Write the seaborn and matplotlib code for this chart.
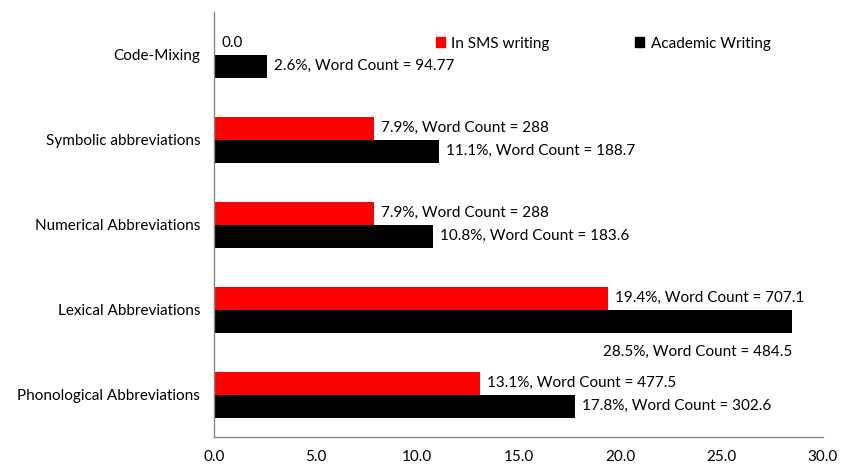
import matplotlib
matplotlib.use("Agg")
import matplotlib.pyplot as plt
from matplotlib.patches import Patch
import numpy as np
import pandas as pd
import seaborn as sns

# ── Data ──────────────────────────────────────────────────────────────────────
categories = ["Code-Mixing", "Symbolic abbreviations", "Numerical Abbreviations",
              "Lexical Abbreviations", "Phonological Abbreviations"]
series = ["In SMS writing", "Academic Writing"]
sms_pct = [0.0, 7.9, 7.9, 19.4, 13.1]
sms_words = [None, "288", "288", "707.1", "477.5"]
acad_pct = [2.6, 11.1, 10.8, 28.5, 17.8]
acad_words = ["94.77", "188.7", "183.6", "484.5", "302.6"]
x_ticks = [0, 5, 10, 15, 20, 25, 30]

df = pd.DataFrame({
    "category": categories * 2,
    "series": [series[0]] * 5 + [series[1]] * 5,
    "pct": sms_pct + acad_pct,
})

sns.set_style("white")
plt.rcParams["font.family"] = ["Lato", "DejaVu Sans"]
plt.rcParams["font.size"] = 11
plt.rcParams["text.color"] = "black"
plt.rcParams["xtick.color"] = "black"
plt.rcParams["ytick.color"] = "black"

fs = 11

fig = plt.figure(figsize=(8.41, 4.68), dpi=100)
ax = fig.add_axes([0.2545, 0.066, 0.724, 0.908])

sns.barplot(data=df, x="pct", y="category", hue="series", orient="h",
            order=categories, hue_order=series,
            palette=["#FF0000", "#000000"], width=0.54, saturation=1,
            linewidth=0, ax=ax, legend=False)

ax.set_xlim(0, 30)
ax.set_ylim(len(categories) - 0.5, -0.5)
ax.set_xticks(x_ticks)
ax.set_xticklabels([f"{t:.1f}" for t in x_ticks], fontsize=fs)
ax.set_xlabel("")
ax.set_ylabel("")

# category labels centred on bands, tick marks on the band edges
ax.set_yticks(range(len(categories)))
ax.set_yticklabels(categories, fontsize=fs)
ax.tick_params(axis="y", length=0, pad=10)
ax.set_yticks(np.arange(-0.5, len(categories)), minor=True)
ax.tick_params(axis="y", which="minor", length=5, color="#868686", direction="out")
ax.tick_params(axis="x", length=5, color="#868686", direction="out", pad=4)

for side in ["top", "right"]:
    ax.spines[side].set_visible(False)
for side in ["left", "bottom"]:
    ax.spines[side].set_color("#868686")
    ax.spines[side].set_linewidth(1)

# ── Bar labels ────────────────────────────────────────────────────────────────
off = 0.135
gap = 0.35
for i in range(len(categories)):
    if sms_words[i] is None:
        txt = f"{sms_pct[i]:.1f}"
    else:
        txt = f"{sms_pct[i]}%, Word Count = {sms_words[i]}"
    ax.text(sms_pct[i] + gap, i - off, txt, va="center", ha="left", fontsize=fs)

    txt = f"{acad_pct[i]}%, Word Count = {acad_words[i]}"
    if acad_pct[i] > 25:
        ax.text(acad_pct[i], i + 0.5, txt, va="center", ha="right", fontsize=fs)
    else:
        ax.text(acad_pct[i] + gap, i + off, txt, va="center", ha="left", fontsize=fs)

# ── Legend ────────────────────────────────────────────────────────────────────
handles = [Patch(color="#FF0000"), Patch(color="#000000")]
ax.legend(handles, series, loc="upper left", bbox_to_anchor=(0.342, 0.975),
          ncol=2, frameon=False, handlelength=0.6, handleheight=0.6,
          handletextpad=0.4, columnspacing=5.6, fontsize=fs)

plt.savefig("out.png", dpi=100)
plt.close()
